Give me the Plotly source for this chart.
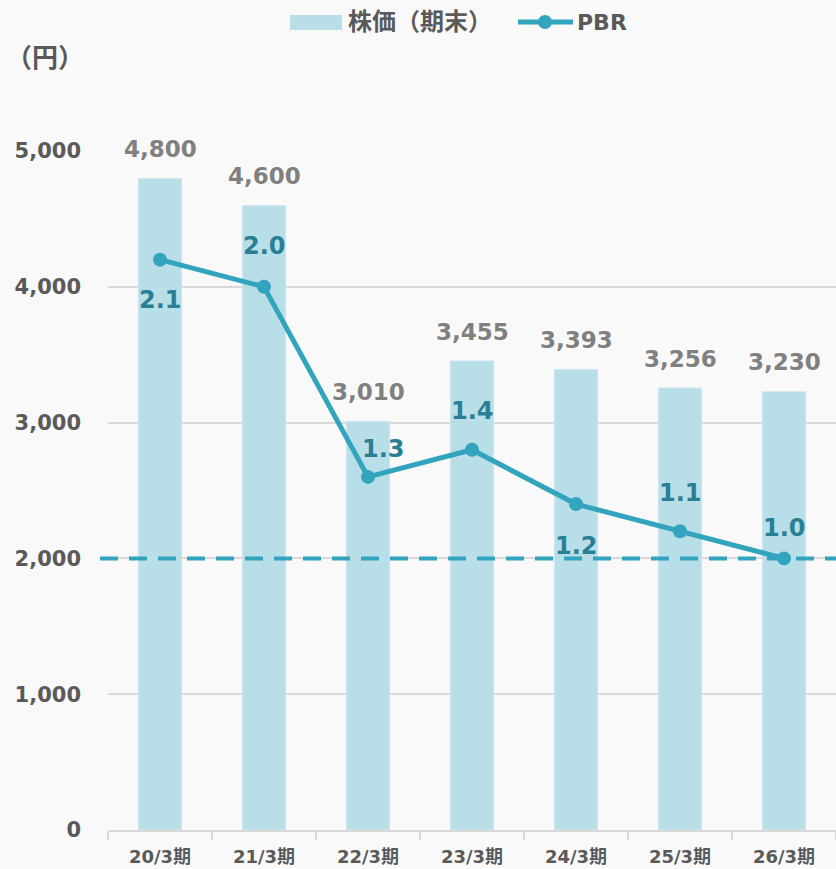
import plotly.graph_objects as go

categories = ["20/3期", "21/3期", "22/3期", "23/3期", "24/3期", "25/3期", "26/3期"]
price = [4800, 4600, 3010, 3455, 3393, 3256, 3230]
pbr = [2.1, 2.0, 1.3, 1.4, 1.2, 1.1, 1.0]
pbr_label_dx = [0, 0, 15, 0, 0, 0, 0]
pbr_label_dy = [-40, 41, 28, 39, -42, 38, 30]
yticks = [0, 1000, 2000, 3000, 4000, 5000]
pbr_ref = 1.0
legend_names = ["株価（期末）", "PBR"]

FONT = "DejaVu Sans, Noto Sans CJK JP"
BAR_C = "#b8dfe8"
LINE_C = "#33a4bd"
LBL_C = "#2a7f95"
GREY = "#595959"

W, H = 836, 869
L, R, T, B = 108, 0, 151, 39
PW, PH = W - L - R, H - T - B


def px(x):
    return (x - L) / PW


def py(y):
    return (H - B - y) / PH


fig = go.Figure()
fig.add_trace(go.Bar(x=categories, y=price, name=legend_names[0], marker_color=BAR_C,
                     width=0.42, yaxis="y", showlegend=False))
fig.add_trace(go.Scatter(x=categories, y=pbr, name=legend_names[1], mode="lines+markers",
                         line=dict(color=LINE_C, width=5), marker=dict(size=14, color=LINE_C),
                         yaxis="y2", cliponaxis=False, showlegend=False))

ann = []
for c, v in zip(categories, price):
    ann.append(dict(x=c, y=v, xref="x", yref="y", text=f"<b>{v:,}</b>", showarrow=False,
                    yshift=29, font=dict(family=FONT, size=23, color="#808080")))
for c, v, dx, dy in zip(categories, pbr, pbr_label_dx, pbr_label_dy):
    ann.append(dict(x=c, y=v, xref="x", yref="y2", text=f"<b>{v:.1f}</b>", showarrow=False,
                    xshift=dx, yshift=dy, font=dict(family=FONT, size=24, color=LBL_C)))
ann.append(dict(text="<b>（円）</b>", showarrow=False, xref="paper", yref="paper",
                x=px(45), y=py(58), xanchor="center", yanchor="middle",
                font=dict(family=FONT, size=26, color=GREY)))
# manual legend
ann.append(dict(text=f"<b>{legend_names[0]}</b>", showarrow=False, xref="paper", yref="paper",
                x=px(346), y=py(22), xanchor="left", yanchor="middle",
                font=dict(family=FONT, size=24, color=GREY)))
ann.append(dict(text=f"<b>{legend_names[1]}</b>", showarrow=False, xref="paper", yref="paper",
                x=px(575), y=py(22), xanchor="left", yanchor="middle",
                font=dict(family=FONT, size=22, color=GREY)))

shapes = [
    dict(type="line", xref="paper", yref="y2", x0=px(100), x1=1, y0=pbr_ref, y1=pbr_ref,
         line=dict(color=LINE_C, width=4, dash="18px,11px"), layer="above"),
    dict(type="rect", xref="paper", yref="paper", x0=px(290), x1=px(342), y0=py(30), y1=py(15),
         fillcolor=BAR_C, line=dict(width=0)),
    dict(type="line", xref="paper", yref="paper", x0=px(518), x1=px(573), y0=py(22), y1=py(22),
         line=dict(color=LINE_C, width=5)),
    dict(type="circle", xref="paper", yref="paper", x0=px(538), x1=px(552), y0=py(29), y1=py(15),
         fillcolor=LINE_C, line=dict(width=0)),
]

fig.update_layout(
    width=W, height=H,
    margin=dict(l=L, r=R, t=T, b=B),
    paper_bgcolor="#f9f9f9", plot_bgcolor="#f9f9f9",
    font=dict(family=FONT, color=GREY),
    showlegend=False,
    xaxis=dict(showgrid=False, showline=True, linecolor="#d9d9d9", linewidth=2,
               ticks="outside", tickson="boundaries", ticklen=8, tickcolor="#d9d9d9", tickwidth=2,
               tickfont=dict(family=FONT, size=18, color=GREY), ticklabelstandoff=9,
               tickprefix="<b>", ticksuffix="</b>"),
    yaxis=dict(range=[0, 5000], tickvals=yticks, ticktext=[f"<b>{t:,}</b>" for t in yticks],
               showgrid=True, gridcolor="#d9d9d9", gridwidth=2, zeroline=False,
               tickfont=dict(family=FONT, size=21, color=GREY), ticklabelstandoff=26),
    yaxis2=dict(range=[0, 2.5], overlaying="y", side="right", visible=False, showgrid=False),
    annotations=ann,
    shapes=shapes,
)

fig.write_html("out.html", config={"displayModeBar": False},
               post_script="document.body.style.margin='0';document.body.style.background='#f9f9f9';")
